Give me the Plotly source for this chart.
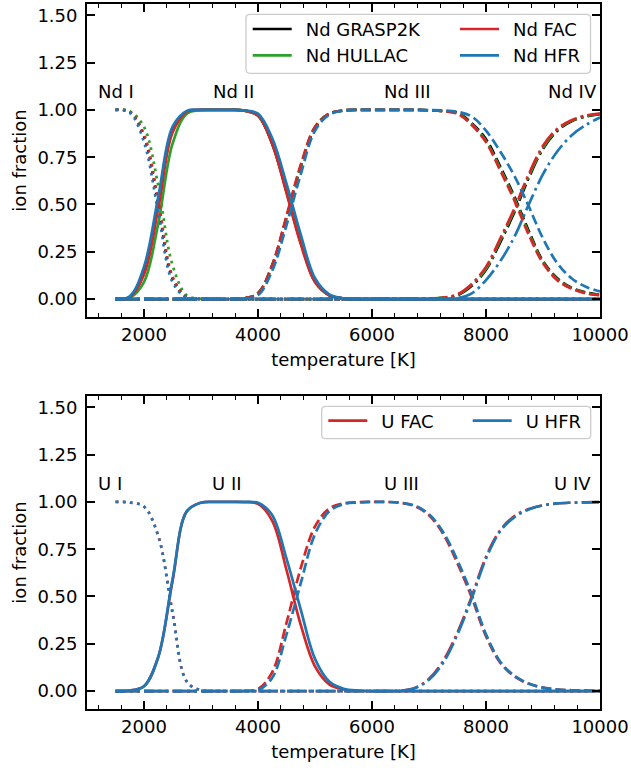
import plotly.graph_objects as go

# ---------------- data ----------------
T = [1500, 1750, 2000, 2250, 2500,
     2750, 3000, 3250, 3500, 3750,
     4000, 4250, 4500, 4750, 5000,
     5250, 5500, 5750, 6000, 6250,
     6500, 6750, 7000, 7250, 7500,
     7750, 8000, 8250, 8500, 8750,
     9000, 9250, 9500, 9750, 10000]

# Nd, GRASP2K
nd_grasp_I = [1.0, 0.99, 0.86, 0.50, 0.11,
              0.01, 0, 0, 0, 0,
              0, 0, 0, 0, 0,
              0, 0, 0, 0, 0,
              0, 0, 0, 0, 0,
              0, 0, 0, 0, 0,
              0, 0, 0, 0, 0]
nd_grasp_II = [0, 0.01, 0.14, 0.50, 0.89,
               0.99, 1.0, 1.0, 1.0, 0.997,
               0.97, 0.82, 0.57, 0.30, 0.095,
               0.02, 0.003, 0, 0, 0,
               0, 0, 0, 0, 0,
               0, 0, 0, 0, 0,
               0, 0, 0, 0, 0]
nd_grasp_III = [0, 0, 0, 0, 0,
                0, 0, 0, 0, 0.003,
                0.03, 0.18, 0.43, 0.70, 0.905,
                0.98, 0.997, 1.0, 1.0, 1.0,
                1.0, 1.0, 0.998, 0.994, 0.985,
                0.93, 0.845, 0.70, 0.54, 0.36,
                0.20, 0.11, 0.06, 0.035, 0.022]
nd_grasp_IV = [0, 0, 0, 0, 0,
               0, 0, 0, 0, 0,
               0, 0, 0, 0, 0,
               0, 0, 0, 0, 0,
               0, 0, 0.001, 0.006, 0.02,
               0.07, 0.155, 0.30, 0.46, 0.64,
               0.795, 0.89, 0.94, 0.965, 0.978]

# Nd, HULLAC
nd_hullac_I = [1.0, 0.993, 0.91, 0.60, 0.18,
               0.02, 0.001, 0, 0, 0,
               0, 0, 0, 0, 0,
               0, 0, 0, 0, 0,
               0, 0, 0, 0, 0,
               0, 0, 0, 0, 0,
               0, 0, 0, 0, 0]
nd_hullac_II = [0, 0.007, 0.09, 0.40, 0.82,
                0.98, 0.999, 1.0, 1.0, 0.997,
                0.97, 0.83, 0.57, 0.30, 0.09,
                0.02, 0.003, 0, 0, 0,
                0, 0, 0, 0, 0,
                0, 0, 0, 0, 0,
                0, 0, 0, 0, 0]
nd_hullac_III = [0, 0, 0, 0, 0,
                 0, 0, 0, 0, 0.003,
                 0.03, 0.17, 0.43, 0.70, 0.91,
                 0.98, 0.997, 1.0, 1.0, 1.0,
                 1.0, 1.0, 0.998, 0.993, 0.982,
                 0.925, 0.835, 0.69, 0.53, 0.35,
                 0.195, 0.105, 0.058, 0.032, 0.021]
nd_hullac_IV = [0, 0, 0, 0, 0,
                0, 0, 0, 0, 0,
                0, 0, 0, 0, 0,
                0, 0, 0, 0, 0,
                0, 0, 0.001, 0.007, 0.022,
                0.075, 0.16, 0.31, 0.47, 0.65,
                0.80, 0.895, 0.942, 0.967, 0.979]

# Nd, FAC
nd_fac_I = [1.0, 0.99, 0.87, 0.52, 0.12,
            0.01, 0, 0, 0, 0,
            0, 0, 0, 0, 0,
            0, 0, 0, 0, 0,
            0, 0, 0, 0, 0,
            0, 0, 0, 0, 0,
            0, 0, 0, 0, 0]
nd_fac_II = [0, 0.01, 0.13, 0.48, 0.88,
             0.99, 1.0, 1.0, 1.0, 0.997,
             0.97, 0.82, 0.56, 0.29, 0.09,
             0.02, 0.003, 0, 0, 0,
             0, 0, 0, 0, 0,
             0, 0, 0, 0, 0,
             0, 0, 0, 0, 0]
nd_fac_III = [0, 0, 0, 0, 0,
              0, 0, 0, 0, 0.003,
              0.03, 0.18, 0.44, 0.71, 0.91,
              0.98, 0.997, 1.0, 1.0, 1.0,
              1.0, 1.0, 0.998, 0.993, 0.98,
              0.92, 0.83, 0.68, 0.52, 0.34,
              0.19, 0.10, 0.055, 0.03, 0.02]
nd_fac_IV = [0, 0, 0, 0, 0,
             0, 0, 0, 0, 0,
             0, 0, 0, 0, 0,
             0, 0, 0, 0, 0,
             0, 0, 0.001, 0.007, 0.025,
             0.08, 0.17, 0.32, 0.48, 0.66,
             0.81, 0.90, 0.945, 0.97, 0.98]

# Nd, HFR
nd_hfr_I = [1.0, 0.985, 0.83, 0.46, 0.09,
            0.005, 0, 0, 0, 0,
            0, 0, 0, 0, 0,
            0, 0, 0, 0, 0,
            0, 0, 0, 0, 0,
            0, 0, 0, 0, 0,
            0, 0, 0, 0, 0]
nd_hfr_II = [0, 0.015, 0.17, 0.54, 0.91,
             0.995, 1.0, 1.0, 1.0, 0.998,
             0.98, 0.85, 0.61, 0.34, 0.11,
             0.025, 0.004, 0, 0, 0,
             0, 0, 0, 0, 0,
             0, 0, 0, 0, 0,
             0, 0, 0, 0, 0]
nd_hfr_III = [0, 0, 0, 0, 0,
              0, 0, 0, 0, 0.002,
              0.02, 0.15, 0.39, 0.66, 0.89,
              0.975, 0.996, 1.0, 1.0, 1.0,
              1.0, 1.0, 0.999, 0.997, 0.99,
              0.965, 0.89, 0.78, 0.65, 0.49,
              0.32, 0.19, 0.11, 0.065, 0.04]
nd_hfr_IV = [0, 0, 0, 0, 0,
             0, 0, 0, 0, 0,
             0, 0, 0, 0, 0,
             0, 0, 0, 0, 0,
             0, 0, 0, 0.001, 0.005,
             0.03, 0.10, 0.20, 0.33, 0.50,
             0.66, 0.78, 0.865, 0.92, 0.96]

# U, FAC
u_fac_I = [1.0, 0.997, 0.975, 0.82, 0.42,
           0.05, 0.004, 0, 0, 0,
           0, 0, 0, 0, 0,
           0, 0, 0, 0, 0,
           0, 0, 0, 0, 0,
           0, 0, 0, 0, 0,
           0, 0, 0, 0, 0]
u_fac_II = [0, 0.003, 0.025, 0.18, 0.58,
            0.95, 0.996, 1.0, 1.0, 0.999,
            0.99, 0.90, 0.64, 0.35, 0.13,
            0.035, 0.008, 0.001, 0, 0,
            0, 0, 0, 0, 0,
            0, 0, 0, 0, 0,
            0, 0, 0, 0, 0]
u_fac_III = [0, 0, 0, 0, 0,
             0, 0, 0, 0, 0.001,
             0.01, 0.10, 0.36, 0.65, 0.87,
             0.965, 0.992, 0.998, 1.0, 1.0,
             0.995, 0.978, 0.93, 0.83, 0.675,
             0.495, 0.29, 0.15, 0.077, 0.038,
             0.018, 0.008, 0.004, 0.002, 0.001]
u_fac_IV = [0, 0, 0, 0, 0,
            0, 0, 0, 0, 0,
            0, 0, 0, 0, 0,
            0, 0, 0, 0, 0,
            0.002, 0.016, 0.065, 0.16, 0.31,
            0.50, 0.71, 0.85, 0.925, 0.962,
            0.982, 0.992, 0.996, 0.998, 0.999]

# U, HFR
u_hfr_I = [1.0, 0.997, 0.975, 0.82, 0.41,
           0.05, 0.004, 0, 0, 0,
           0, 0, 0, 0, 0,
           0, 0, 0, 0, 0,
           0, 0, 0, 0, 0,
           0, 0, 0, 0, 0,
           0, 0, 0, 0, 0]
u_hfr_II = [0, 0.003, 0.025, 0.18, 0.59,
            0.95, 0.996, 1.0, 1.0, 1.0,
            0.995, 0.93, 0.70, 0.43, 0.17,
            0.05, 0.012, 0.002, 0, 0,
            0, 0, 0, 0, 0,
            0, 0, 0, 0, 0,
            0, 0, 0, 0, 0]
u_hfr_III = [0, 0, 0, 0, 0,
             0, 0, 0, 0, 0,
             0.005, 0.07, 0.30, 0.57, 0.83,
             0.95, 0.988, 0.997, 1.0, 1.0,
             0.996, 0.98, 0.935, 0.84, 0.69,
             0.51, 0.30, 0.155, 0.08, 0.04,
             0.018, 0.008, 0.004, 0.002, 0.001]
u_hfr_IV = [0, 0, 0, 0, 0,
            0, 0, 0, 0, 0,
            0, 0, 0, 0, 0,
            0, 0, 0, 0, 0,
            0.002, 0.015, 0.06, 0.15, 0.30,
            0.49, 0.70, 0.845, 0.92, 0.96,
            0.982, 0.992, 0.996, 0.998, 0.999]

nd_labels = ["Nd I", "Nd II", "Nd III", "Nd IV"]
nd_label_T = [1160, 3170, 6170, 9060]
u_labels = ["U I", "U II", "U III", "U IV"]
u_label_T = [1160, 3150, 6170, 9150]

x_ticks = [2000, 4000, 6000, 8000, 10000]
y_ticks = [0.0, 0.25, 0.5, 0.75, 1.0, 1.25, 1.5]

# ---------------- styling ----------------
FONT = "DejaVu Sans"
LW = 2.7
DASHES = ["2.7px,4.5px", "solid", "10px,4.3px", "17.3px,4.3px,2.7px,4.3px"]
GAP = "\u2002"  # spacing between legend handle and its text

nd_models = [
    ("Nd GRASP2K", "#000000", [nd_grasp_I, nd_grasp_II, nd_grasp_III, nd_grasp_IV], "legend"),
    ("Nd HULLAC", "#2ca02c", [nd_hullac_I, nd_hullac_II, nd_hullac_III, nd_hullac_IV], "legend"),
    ("Nd FAC", "#d62728", [nd_fac_I, nd_fac_II, nd_fac_III, nd_fac_IV], "legend2"),
    ("Nd HFR", "#1f77b4", [nd_hfr_I, nd_hfr_II, nd_hfr_III, nd_hfr_IV], "legend2"),
]
u_models = [
    ("U FAC", "#d62728", [u_fac_I, u_fac_II, u_fac_III, u_fac_IV], "legend3"),
    ("U HFR", "#1f77b4", [u_hfr_I, u_hfr_II, u_hfr_III, u_hfr_IV], "legend4"),
]

fig = go.Figure()


def add_model(name, color, series, legend, xa, ya):
    for k, ys in enumerate(series):
        fig.add_trace(go.Scatter(
            x=T, y=ys, mode="lines", name=GAP + name,
            line=dict(color=color, width=LW, dash=DASHES[k], shape="spline", smoothing=1.0),
            showlegend=(k == 1), legend=legend, legendgroup=name,
            xaxis=xa, yaxis=ya,
        ))


for m in nd_models:
    add_model(*m, "x", "y")
for m in u_models:
    add_model(*m, "x2", "y2")

# plot area in pixels: x 87..600, y 4..709
L, R, TOP, BOT = 87, 600, 4, 709
W, H = R - L, BOT - TOP


def PX(p):
    return (p - L) / W


def PY(p):
    return (BOT - p) / H


axis_common = dict(
    showline=True, linecolor="black", linewidth=1.8, mirror="allticks",
    ticks="inside", ticklen=8, tickwidth=1.6, tickcolor="black",
    showgrid=False, zeroline=False,
    tickfont=dict(family=FONT, size=18, color="black"),
)
xaxis_common = dict(
    axis_common, range=[1000, 10000], tickmode="array", tickvals=x_ticks,
    ticktext=[str(v) for v in x_ticks],
    minor=dict(dtick=400, tick0=0, ticks="inside", ticklen=4.5, tickwidth=1.4,
               tickcolor="black", showgrid=False),
    title=dict(text="temperature [K]", font=dict(family=FONT, size=18, color="black"), standoff=10),
)
yaxis_common = dict(
    axis_common, range=[-0.095, 1.56], tickmode="array", tickvals=y_ticks,
    ticktext=["%.2f" % v for v in y_ticks], ticklabelstandoff=4,
    title=dict(text="ion fraction", font=dict(family=FONT, size=18, color="black"), standoff=6),
)

top_dom = [PY(317), 1.0]
bot_dom = [0.0, PY(396)]

leg_common = dict(
    orientation="v", bgcolor="rgba(0,0,0,0)", borderwidth=0, itemwidth=39,
    font=dict(family=FONT, size=18, color="black"), xanchor="left", yanchor="top",
    traceorder="normal",
)


def rounded(x0, y0, x1, y1, r=4):
    return (f"M{PX(x0 + r)},{PY(y0)} L{PX(x1 - r)},{PY(y0)} Q{PX(x1)},{PY(y0)} {PX(x1)},{PY(y0 + r)} "
            f"L{PX(x1)},{PY(y1 - r)} Q{PX(x1)},{PY(y1)} {PX(x1 - r)},{PY(y1)} "
            f"L{PX(x0 + r)},{PY(y1)} Q{PX(x0)},{PY(y1)} {PX(x0)},{PY(y1 - r)} "
            f"L{PX(x0)},{PY(y0 + r)} Q{PX(x0)},{PY(y0)} {PX(x0 + r)},{PY(y0)} Z")


shapes = [
    dict(type="path", xref="paper", yref="paper", path=rounded(246, 14.3, 590.5, 73.3),
         fillcolor="rgba(255,255,255,0.8)", line=dict(color="#cccccc", width=1.3), layer="above"),
    dict(type="path", xref="paper", yref="paper", path=rounded(321.7, 406.3, 590.7, 438.7),
         fillcolor="rgba(255,255,255,0.8)", line=dict(color="#cccccc", width=1.3), layer="above"),
]

annotations = []
for lab, tx in zip(nd_labels, nd_label_T):
    annotations.append(dict(x=tx, y=1.03, xref="x", yref="y", text=lab, showarrow=False,
                            xanchor="left", yanchor="bottom",
                            font=dict(family=FONT, size=18, color="black")))
for lab, tx in zip(u_labels, u_label_T):
    annotations.append(dict(x=tx, y=1.03, xref="x2", yref="y2", text=lab, showarrow=False,
                            xanchor="left", yanchor="bottom",
                            font=dict(family=FONT, size=18, color="black")))

fig.update_layout(
    width=631, height=772,
    margin=dict(l=L, r=631 - R, t=TOP, b=772 - BOT, autoexpand=False),
    plot_bgcolor="white", paper_bgcolor="white",
    font=dict(family=FONT, size=18, color="black"),
    xaxis=dict(xaxis_common, anchor="y", domain=[0, 1]),
    yaxis=dict(yaxis_common, anchor="x", domain=top_dom),
    xaxis2=dict(xaxis_common, anchor="y2", domain=[0, 1]),
    yaxis2=dict(yaxis_common, anchor="x2", domain=bot_dom),
    legend=dict(leg_common, x=PX(247.7), y=PY(10.8)),
    legend2=dict(leg_common, x=PX(455), y=PY(10.8)),
    legend3=dict(leg_common, x=PX(323.3), y=PY(402.5)),
    legend4=dict(leg_common, x=PX(467.7), y=PY(402.5)),
    shapes=shapes,
    annotations=annotations,
)

fig.write_html("out.html", config={"displayModeBar": False},
               post_script="document.body.style.margin='0';document.body.style.overflow='hidden';")
